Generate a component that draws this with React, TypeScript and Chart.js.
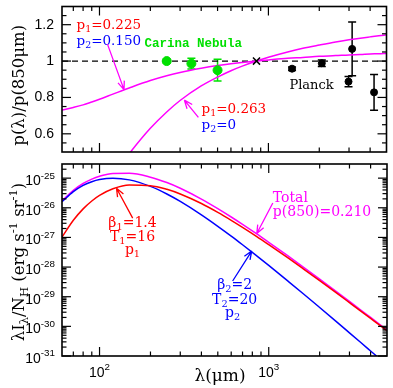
import React, { useEffect, useRef } from "react";
import { Chart, registerables } from "chart.js";
Chart.register(...registerables);

// ---------- data ----------
const lambdas = [60, 70, 80, 90, 100, 120, 150, 200, 250, 300, 400, 500, 600, 700, 850, 1000, 1300, 1600, 2000, 2500, 3000, 3500, 4000, 4500, 5000];
// top panel: p(lambda)/p(850um)
const ratioA = [0.731, 0.745, 0.759, 0.775, 0.790, 0.818, 0.852, 0.893, 0.919, 0.937, 0.960, 0.975, 0.985, 0.992, 1.000, 1.006, 1.015, 1.020, 1.026, 1.030, 1.034, 1.036, 1.039, 1.040, 1.042];
const ratioB = [0.074, 0.119, 0.170, 0.223, 0.275, 0.371, 0.491, 0.630, 0.720, 0.783, 0.863, 0.912, 0.947, 0.972, 1.000, 1.021, 1.050, 1.070, 1.088, 1.105, 1.117, 1.126, 1.133, 1.139, 1.144];
// bottom panel: lambda I_lambda / N_H
const sedComp1 = [1.02e-27, 3.78e-27, 9.18e-27, 1.69e-26, 2.61e-26, 4.36e-26, 5.86e-26, 5.58e-26, 4.19e-26, 2.92e-26, 1.39e-26, 6.98e-27, 3.78e-27, 2.19e-27, 1.07e-27, 5.71e-28, 2.03e-28, 8.73e-29, 3.48e-29, 1.37e-29, 6.32e-30, 3.28e-30, 1.85e-30, 1.12e-30, 7.11e-31];
const sedComp2 = [1.59e-26, 3.50e-26, 5.68e-26, 7.60e-26, 9.00e-26, 1.00e-25, 8.75e-26, 5.26e-26, 2.92e-26, 1.64e-26, 5.79e-27, 2.38e-27, 1.11e-27, 5.66e-28, 2.38e-28, 1.14e-28, 3.35e-29, 1.26e-29, 4.32e-30, 1.47e-30, 6.05e-31, 2.85e-31, 1.48e-31, 8.30e-32, 4.94e-32];
const sedTotal = [1.69e-26, 3.88e-26, 6.60e-26, 9.29e-26, 1.16e-25, 1.44e-25, 1.46e-25, 1.08e-25, 7.11e-26, 4.56e-26, 1.97e-26, 9.36e-27, 4.89e-27, 2.76e-27, 1.31e-27, 6.85e-28, 2.37e-28, 9.99e-29, 3.91e-29, 1.52e-29, 6.93e-30, 3.57e-30, 2.00e-30, 1.20e-30, 7.60e-31];
const carinaLambda = [250, 350, 500];
const carinaRatio = [1.0, 0.986, 0.950];
const carinaErr = [0.01, 0.03, 0.06];
const planckLambda = [1380, 2070, 2980, 3130, 4220];
const planckRatio = [0.958, 0.988, 0.887, 1.067, 0.828];
const planckErr = [0.01, 0.018, 0.028, 0.148, 0.098];
const refLambda = [850];
const refRatio = [1];
const unityLineX = [60, 5000];
const unityLineY = [1, 1];

// ticks
const xMajorTicks = [100, 1000];
const xMajorLabels = ["2", "3"];
const xMinorTicks = [70, 80, 90, 200, 300, 400, 500, 600, 700, 800, 900, 2000, 3000, 4000];
const topMajorTicks = [0.6, 0.8, 1.0, 1.2];
const topMajorLabels = ["0.6", "0.8", "1", "1.2"];
const topMinorTicks = [0.55, 0.65, 0.7, 0.75, 0.85, 0.9, 0.95, 1.05, 1.1, 1.15, 1.25];
const botMajorExps = [-31, -30, -29, -28, -27, -26, -25];

const RED = "#ff0000";
const BLUE = "#0000ff";
const MAG = "#ff00ff";
const GREEN = "#00e000";
const SERIF = '"DejaVu Serif", serif';
const SANS = '"Liberation Sans", Arial, sans-serif';

type Seg = [string, number]; // 0 normal, 1 sub, 2 sup

function segFont(size: number, mode: number, family: string, weight: string) {
  const s = mode === 0 ? size : size * 0.7;
  return `${weight} ${s}px ${family}`;
}
function drawRich(ctx: CanvasRenderingContext2D, segs: Seg[], x: number, y: number, align: string, size: number, family: string, color: string, weight = "normal") {
  ctx.save();
  ctx.fillStyle = color;
  ctx.textBaseline = "middle";
  ctx.textAlign = "left";
  let w = 0;
  for (const [t, m] of segs) {
    ctx.font = segFont(size, m, family, weight);
    w += ctx.measureText(t).width;
  }
  let cx = align === "left" ? x : align === "right" ? x - w : x - w / 2;
  for (const [t, m] of segs) {
    ctx.font = segFont(size, m, family, weight);
    const dy = m === 1 ? size * 0.3 : m === 2 ? -size * 0.38 : 0;
    ctx.fillText(t, cx, y + dy);
    cx += ctx.measureText(t).width;
  }
  ctx.restore();
}
function drawArrow(ctx: CanvasRenderingContext2D, x1: number, y1: number, x2: number, y2: number, color: string) {
  ctx.save();
  ctx.strokeStyle = color;
  ctx.lineWidth = 1.3;
  ctx.beginPath();
  ctx.moveTo(x1, y1);
  ctx.lineTo(x2, y2);
  const a = Math.atan2(y2 - y1, x2 - x1);
  for (const s of [-1, 1]) {
    const b = a + Math.PI + s * 0.38;
    ctx.moveTo(x2, y2);
    ctx.lineTo(x2 + 9 * Math.cos(b), y2 + 9 * Math.sin(b));
  }
  ctx.stroke();
  ctx.restore();
}
function drawFrame(chart: any, yMajor: number[], yMinor: number[]) {
  const ctx = chart.ctx as CanvasRenderingContext2D;
  const ca = chart.chartArea;
  const xs = chart.scales.x;
  const ys = chart.scales.y;
  ctx.save();
  ctx.strokeStyle = "#000";
  ctx.lineWidth = 1.2;
  const seg = (x1: number, y1: number, x2: number, y2: number) => {
    ctx.beginPath();
    ctx.moveTo(x1, y1);
    ctx.lineTo(x2, y2);
    ctx.stroke();
  };
  for (const v of xMajorTicks) {
    const p = xs.getPixelForValue(v);
    seg(p, ca.bottom, p, ca.bottom - 9);
    seg(p, ca.top, p, ca.top + 9);
  }
  for (const v of xMinorTicks) {
    const p = xs.getPixelForValue(v);
    seg(p, ca.bottom, p, ca.bottom - 4.5);
    seg(p, ca.top, p, ca.top + 4.5);
  }
  for (const v of yMajor) {
    const p = ys.getPixelForValue(v);
    seg(ca.left, p, ca.left + 9, p);
    seg(ca.right, p, ca.right - 9, p);
  }
  for (const v of yMinor) {
    const p = ys.getPixelForValue(v);
    seg(ca.left, p, ca.left + 4.5, p);
    seg(ca.right, p, ca.right - 4.5, p);
  }
  ctx.lineWidth = 1.6;
  ctx.strokeRect(ca.left, ca.top, ca.right - ca.left, ca.bottom - ca.top);
  ctx.restore();
}

const pts = (xs: number[], ys: number[]) => xs.map((x, i) => ({ x, y: ys[i] }));

function lineDs(xs: number[], ys: number[], color: string, extra: any = {}) {
  return {
    data: pts(xs, ys),
    showLine: true,
    borderColor: color,
    borderWidth: 1.5,
    pointRadius: 0,
    cubicInterpolationMode: "monotone",
    fill: false,
    ...extra,
  };
}

const topPlugin = {
  id: "topDecor",
  beforeDatasetsDraw(chart: any) {
    const ctx = chart.ctx as CanvasRenderingContext2D;
    const xs = chart.scales.x;
    const ys = chart.scales.y;
    const bars = (lx: number[], vy: number[], ey: number[], color: string) => {
      ctx.save();
      ctx.strokeStyle = color;
      ctx.lineWidth = 1.5;
      lx.forEach((l, i) => {
        const px = xs.getPixelForValue(l);
        const t = ys.getPixelForValue(vy[i] + ey[i]);
        const b = ys.getPixelForValue(vy[i] - ey[i]);
        ctx.beginPath();
        ctx.moveTo(px, t);
        ctx.lineTo(px, b);
        ctx.moveTo(px - 4, t);
        ctx.lineTo(px + 4, t);
        ctx.moveTo(px - 4, b);
        ctx.lineTo(px + 4, b);
        ctx.stroke();
      });
      ctx.restore();
    };
    bars(carinaLambda, carinaRatio, carinaErr, GREEN);
    bars(planckLambda, planckRatio, planckErr, "#000");
  },
  afterDatasetsDraw(chart: any) {
    const ctx = chart.ctx as CanvasRenderingContext2D;
    const xs = chart.scales.x;
    const ys = chart.scales.y;
    const X = (v: number) => xs.getPixelForValue(v);
    const Y = (v: number) => ys.getPixelForValue(v);
    drawFrame(chart, topMajorTicks, topMinorTicks);
    const ca = chart.chartArea;
    topMajorTicks.forEach((v, i) => drawRich(ctx, [[topMajorLabels[i], 0]], ca.left - 8, Y(v), "right", 14, SANS, "#000"));
    // y title
    ctx.save();
    ctx.translate(20, (ca.top + ca.bottom) / 2 + 6);
    ctx.rotate(-Math.PI / 2);
    drawRich(ctx, [["p(λ)/p(850μm)", 0]], 0, 0, "center", 16.5, SERIF, "#000");
    ctx.restore();
    // annotations
    drawRich(ctx, [["p", 0], ["1", 1], ["=0.225", 0]], X(73.1), Y(1.196), "left", 13.5, SERIF, RED);
    drawRich(ctx, [["p", 0], ["2", 1], ["=0.150", 0]], X(73.1), Y(1.109), "left", 13.5, SERIF, BLUE);
    drawRich(ctx, [["Carina Nebula", 0]], X(184.6), Y(1.093), "left", 12.5, '"Liberation Mono", monospace', GREEN, "bold");
    drawRich(ctx, [["Planck", 0]], X(1331), Y(0.864), "left", 13, SERIF, "#000");
    drawRich(ctx, [["p", 0], ["1", 1], ["=0.263", 0]], X(402), Y(0.734), "left", 13.5, SERIF, RED);
    drawRich(ctx, [["p", 0], ["2", 1], ["=0", 0]], X(402), Y(0.647), "left", 13.5, SERIF, BLUE);
    drawArrow(ctx, X(111.5), Y(1.093), X(139.7), Y(0.843), MAG);
    drawArrow(ctx, X(385), Y(0.69), X(318), Y(0.785), MAG);
  },
};

const botMinor: number[] = [];
for (const e of botMajorExps) for (let m = 2; m <= 9; m++) { const v = m * Math.pow(10, e); if (v <= 3e-25) botMinor.push(v); }
const botMajor = botMajorExps.map((e) => Math.pow(10, e));

const botPlugin = {
  id: "botDecor",
  afterDatasetsDraw(chart: any) {
    const ctx = chart.ctx as CanvasRenderingContext2D;
    const xs = chart.scales.x;
    const ys = chart.scales.y;
    const X = (v: number) => xs.getPixelForValue(v);
    const Y = (v: number) => ys.getPixelForValue(v);
    const ca = chart.chartArea;
    drawFrame(chart, botMajor, botMinor);
    botMajorExps.forEach((e) => drawRich(ctx, [["10", 0], [String(e), 2]], ca.left - 7, Y(Math.pow(10, e)) + 3, "right", 14, SANS, "#000"));
    xMajorTicks.forEach((v, i) => drawRich(ctx, [["10", 0], [xMajorLabels[i], 2]], X(v), ca.bottom + 17, "center", 14, SANS, "#000"));
    drawRich(ctx, [["λ(μm)", 0]], 220, ca.bottom + 21, "center", 17, SERIF, "#000");
    ctx.save();
    ctx.translate(20, (ca.top + ca.bottom) / 2 + 2);
    ctx.rotate(-Math.PI / 2);
    drawRich(ctx, [["λI", 0], ["λ", 1], ["/N", 0], ["H", 1], [" (erg s", 0], ["-1", 2], [" sr", 0], ["-1", 2], [")", 0]], 0, 0, "center", 16.5, SERIF, "#000");
    ctx.restore();
    // annotations
    drawRich(ctx, [["Total", 0]], X(1057), Y(2.13e-26), "left", 14, SERIF, MAG);
    drawRich(ctx, [["p(850)=0.210", 0]], X(1057), Y(7.18e-27), "left", 14, SERIF, MAG);
    drawArrow(ctx, X(1057), Y(1.45e-26), X(850), Y(1.35e-27), MAG);
    drawRich(ctx, [["β", 0], ["1", 1], ["=1.4", 0]], X(156.6), Y(3.05e-27), "center", 14, SERIF, RED);
    drawRich(ctx, [["T", 0], ["1", 1], ["=16", 0]], X(156.6), Y(1.03e-27), "center", 14, SERIF, RED);
    drawRich(ctx, [["p", 0], ["1", 1]], X(156.6), Y(3.75e-28), "center", 14, SERIF, RED);
    drawArrow(ctx, X(157), Y(4.47e-27), X(126), Y(4.57e-26), RED);
    drawRich(ctx, [["β", 0], ["2", 1], ["=2", 0]], X(629), Y(2.47e-29), "center", 14, SERIF, BLUE);
    drawRich(ctx, [["T", 0], ["2", 1], ["=20", 0]], X(629), Y(7.71e-30), "center", 14, SERIF, BLUE);
    drawRich(ctx, [["p", 0], ["2", 1]], X(612), Y(2.81e-30), "center", 14, SERIF, BLUE);
    drawArrow(ctx, X(612), Y(3.39e-29), X(793), Y(3.47e-28), BLUE);
  },
};

const baseOptions = (padBottom: number, padTop: number, yScale: any) => ({
  animation: false,
  responsive: false,
  maintainAspectRatio: false,
  devicePixelRatio: 1,
  events: [],
  layout: { padding: { left: 62, right: 6, top: padTop, bottom: padBottom } },
  plugins: { legend: { display: false }, tooltip: { enabled: false } },
  scales: {
    x: { type: "logarithmic", min: 60, max: 5000, display: false },
    y: { ...yScale, display: false },
  },
});

export default function App() {
  const topRef = useRef<HTMLCanvasElement>(null);
  const botRef = useRef<HTMLCanvasElement>(null);
  useEffect(() => {
    const top = new Chart(topRef.current as HTMLCanvasElement, {
      type: "scatter",
      data: {
        datasets: [
          { data: pts(refLambda, refRatio), pointStyle: "crossRot", pointRadius: 5, borderColor: "#000", borderWidth: 1.5, showLine: false },
          { data: pts(carinaLambda, carinaRatio), pointRadius: 4.5, backgroundColor: GREEN, borderColor: GREEN, showLine: false },
          { data: pts(planckLambda, planckRatio), pointRadius: 3.5, backgroundColor: "#000", borderColor: "#000", showLine: false },
          lineDs(ratioA, ratioA, MAG, { data: pts(lambdas, ratioA) }),
          lineDs(lambdas, ratioB, MAG),
          lineDs(unityLineX, unityLineY, "#000", { borderDash: [6, 4], borderWidth: 1.3, cubicInterpolationMode: "default" }),
        ],
      } as any,
      options: baseOptions(8, 5, { type: "linear", min: 0.5, max: 1.3 }) as any,
      plugins: [topPlugin],
    });
    const bot = new Chart(botRef.current as HTMLCanvasElement, {
      type: "scatter",
      data: {
        datasets: [
          lineDs(lambdas, sedComp1, RED),
          lineDs(lambdas, sedComp2, BLUE),
          lineDs(lambdas, sedTotal, MAG),
        ],
      } as any,
      options: baseOptions(32, 6, { type: "logarithmic", min: 1e-31, max: 3e-25 }) as any,
      plugins: [botPlugin],
    });
    return () => {
      top.destroy();
      bot.destroy();
    };
  }, []);
  return (
    <div style={{ position: "fixed", left: 0, top: 0, width: 393, height: 388, background: "#fff" }}>
      <canvas ref={topRef} width={393} height={160} style={{ position: "absolute", left: 0, top: 0, width: 393, height: 160 }} />
      <canvas ref={botRef} width={393} height={230} style={{ position: "absolute", left: 0, top: 158, width: 393, height: 230 }} />
    </div>
  );
}
